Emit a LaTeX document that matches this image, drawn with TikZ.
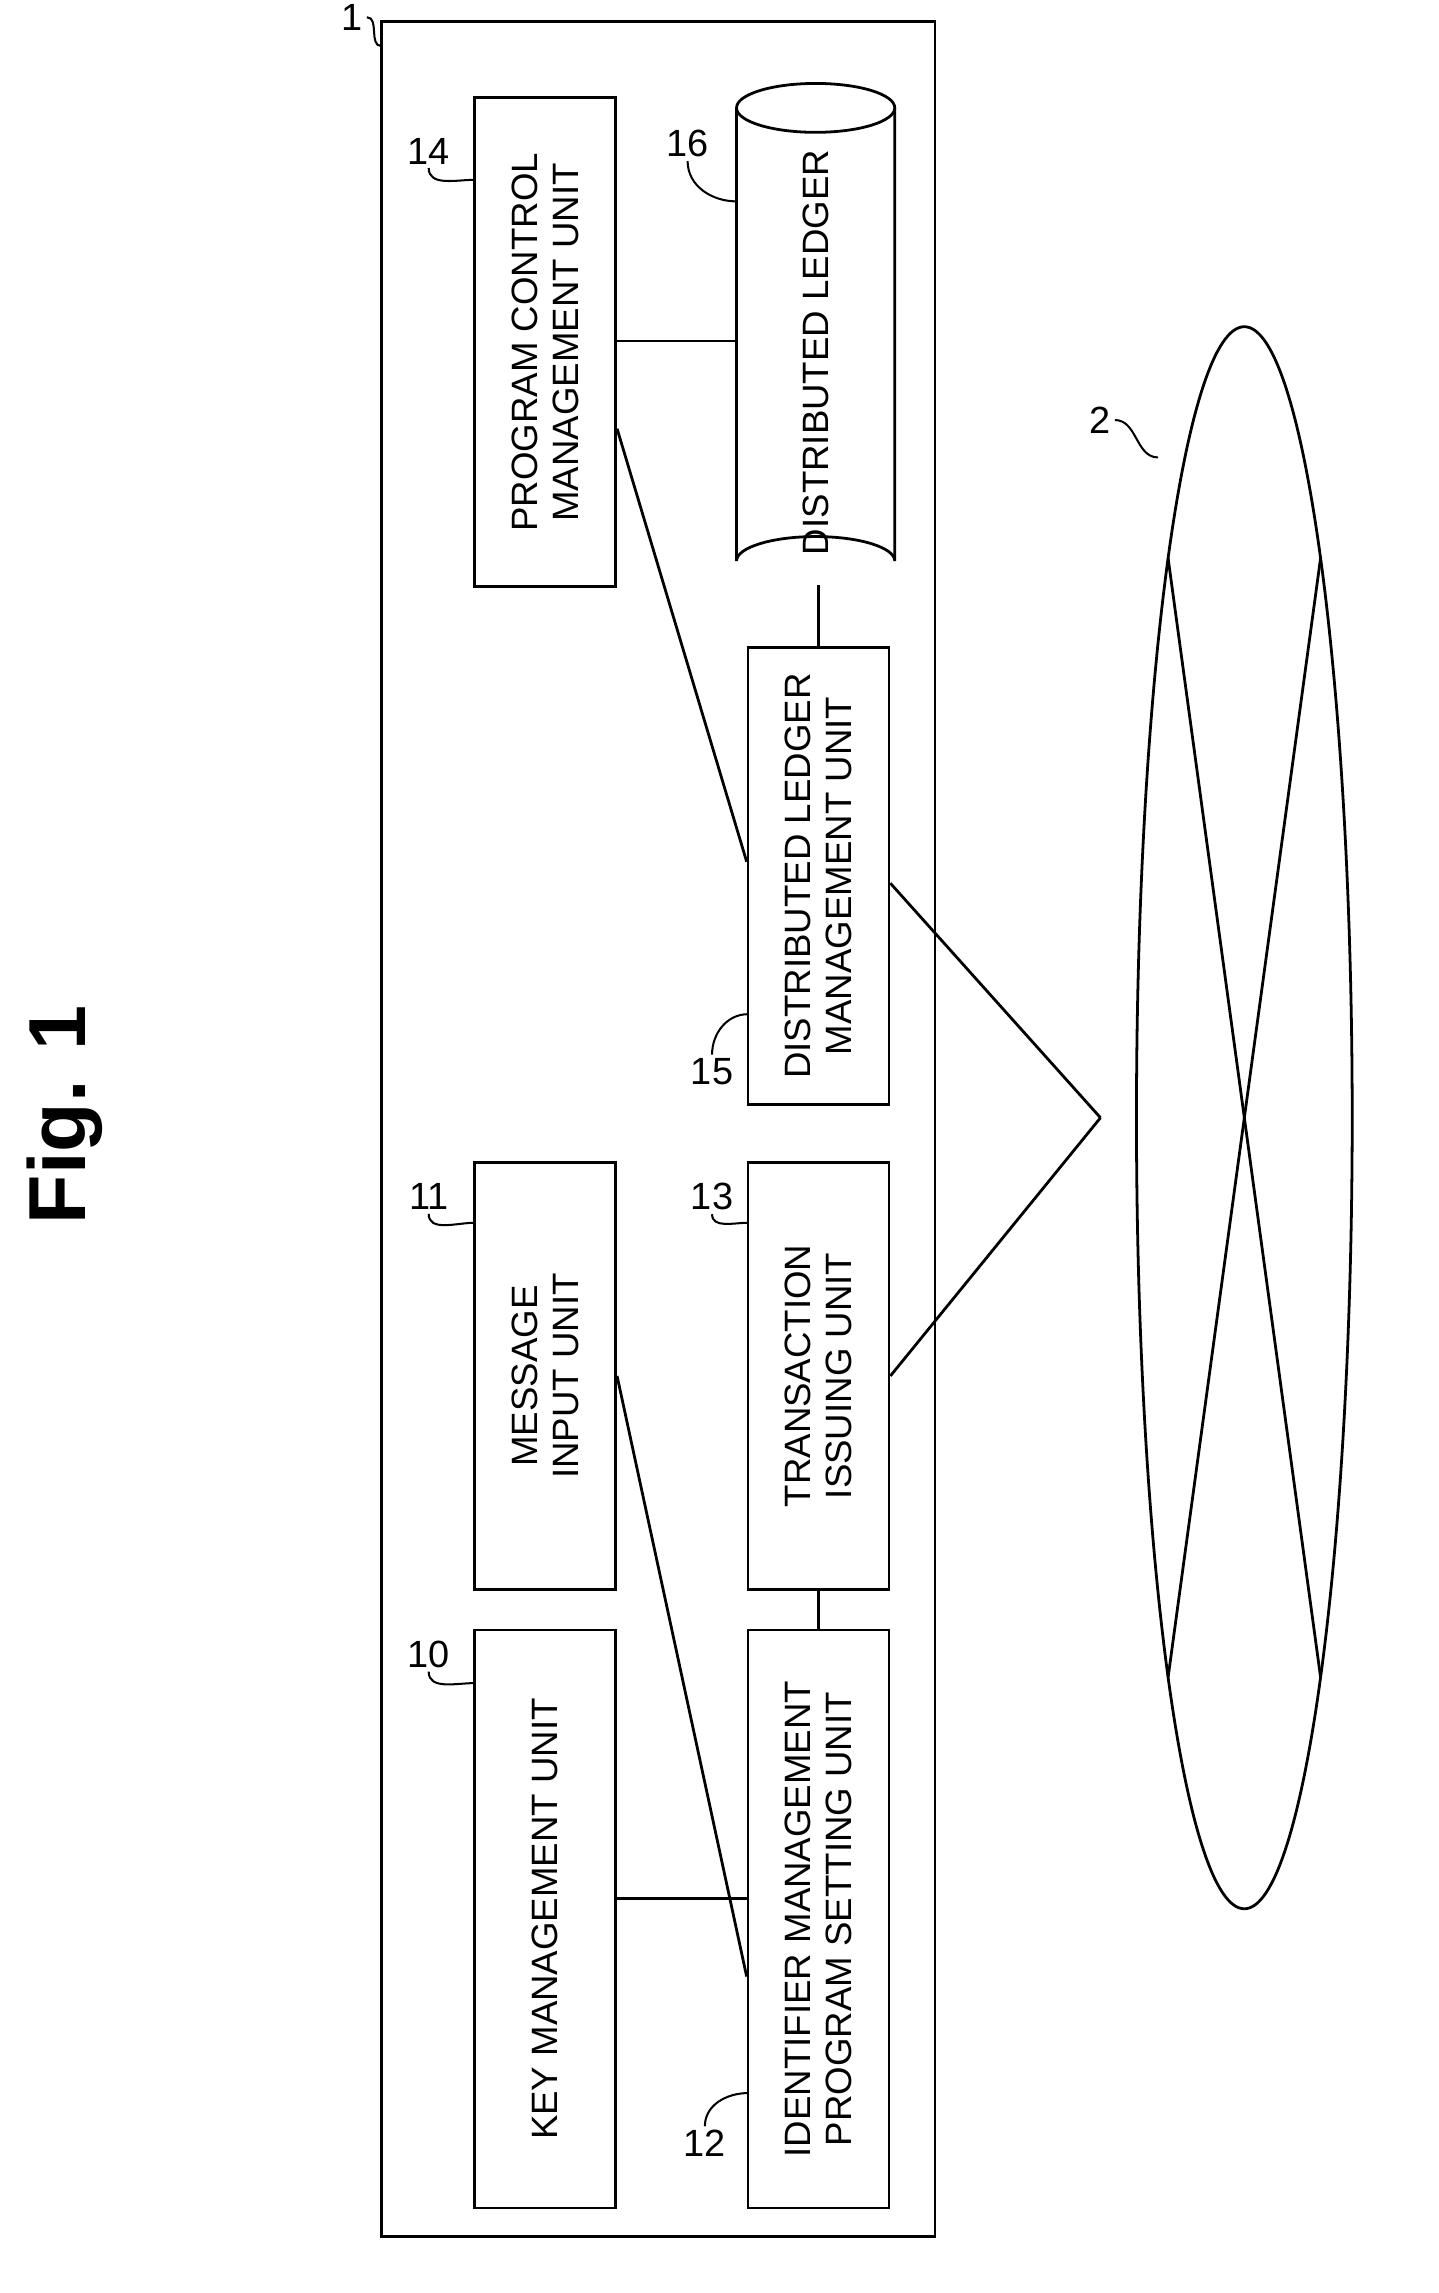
\documentclass[tikz,border=0pt]{standalone}
\usepackage{fontspec}
\setmainfont{Liberation Sans}
\usetikzlibrary{shapes.geometric}
\begin{document}
\begin{tikzpicture}[x=0.02cm,y=-0.02cm,line width=1.1pt,
    unit/.style={draw,rectangle,inner sep=0pt},
    utext/.style={rotate=90,align=center,font=\fontsize{14.5}{16}\selectfont,inner sep=0pt},
    refno/.style={font=\fontsize{15}{16}\selectfont,inner sep=1pt}]
    \useasboundingbox (0,0) rectangle (1000,1594);

    % title and apparatus
    \node[rotate=90,font=\fontsize{32}{36}\selectfont\bfseries] (fig) at (45,775) {Fig. 1};
    \node[unit,minimum width=7.7cm,minimum height=30.8cm] (app) at (457.5,785) {};

    % units
    \node[unit,minimum width=1.96cm,minimum height=6.8cm] (pcm) at (379,238) {};
    \node[utext] at (pcm) {PROGRAM CONTROL\\MANAGEMENT UNIT};
    \node[unit,minimum width=1.96cm,minimum height=5.94cm] (msg) at (379,956.5) {};
    \node[utext] at (msg) {MESSAGE\\INPUT UNIT};
    \node[unit,minimum width=1.96cm,minimum height=8.04cm] (key) at (379,1334) {};
    \node[utext] at (key) {KEY MANAGEMENT UNIT};
    \node[unit,minimum width=1.96cm,minimum height=6.36cm] (dlm) at (569,609) {};
    \node[utext] at (dlm) {DISTRIBUTED LEDGER\\MANAGEMENT UNIT};
    \node[unit,minimum width=1.96cm,minimum height=5.94cm] (trx) at (569,956.5) {};
    \node[utext] at (trx) {TRANSACTION\\ISSUING UNIT};
    \node[unit,minimum width=1.96cm,minimum height=8.04cm] (ids) at (569,1334) {};
    \node[utext] at (ids) {IDENTIFIER MANAGEMENT\\PROGRAM SETTING UNIT};

    % ledger
    \draw (567,75) ellipse (55 and 17);
    \draw (512,75) -- (512,390) arc (180:360:55 and 17) -- (622,75);
    \node[minimum width=2.2cm,minimum height=6.6cm] (led) at (569,232) {};
    \node[utext] at (567,245) {DISTRIBUTED LEDGER};

    % network
    \node[draw,ellipse,minimum width=3cm,minimum height=22cm,inner sep=0pt] (net) at (865,777) {};
    \coordinate (na) at (812,388);
    \coordinate (nb) at (918,388);
    \coordinate (nc) at (812,1166);
    \coordinate (nd) at (918,1166);
    \draw (na) -- (nd);
    \draw (nb) -- (nc);
    \coordinate (hub) at (765,777);

    % connections
    \draw (pcm.east |- 0,237) -- (led.west |- 0,237);
    \draw ([yshift=-1.2cm]pcm.east) -- ([yshift=0.2cm]dlm.west);
    \draw (dlm.north |- 0,407) -- (dlm.north);
    \draw (msg.east) -- ([yshift=-0.8cm]ids.west);
    \draw (trx.south) -- (ids.north);
    \draw (key.east |- 0,1320) -- (ids.west |- 0,1320);
    \draw (trx.east) -- (hub);
    \draw ([yshift=-0.1cm]dlm.east) -- (hub);

    % reference numerals
    \node[refno] (r1) at (245,12) {1};
    \node[refno] (r14) at (298,105) {14};
    \node[refno] (r16) at (478,100) {16};
    \node[refno] (r11) at (298,832) {11};
    \node[refno] (r13) at (495,832) {13};
    \node[refno] (r15) at (495,745) {15};
    \node[refno] (r10) at (298,1150) {10};
    \node[refno] (r12) at (490,1490) {12};
    \node[refno] (r2) at (765,292) {2};
    \draw[line width=0.8pt] (r1.east) to[out=0,in=180] (265,32);
    \draw[line width=0.8pt] (r14.south) to[out=-90,in=180] (330,125);
    \draw[line width=0.8pt] (r16.south) to[out=-90,in=180] (512,140);
    \draw[line width=0.8pt] (r11.south) to[out=-90,in=180] (330,850);
    \draw[line width=0.8pt] (r13.south) to[out=-90,in=180] (520,850);
    \draw[line width=0.8pt] (r15.north) to[out=90,in=180] (520,705);
    \draw[line width=0.8pt] (r10.south) to[out=-90,in=180] (330,1170);
    \draw[line width=0.8pt] (r12.north) to[out=90,in=180] (520,1455);
    \draw[line width=0.8pt] (r2.east) to[out=0,in=180] (805,318);
\end{tikzpicture}
\end{document}
